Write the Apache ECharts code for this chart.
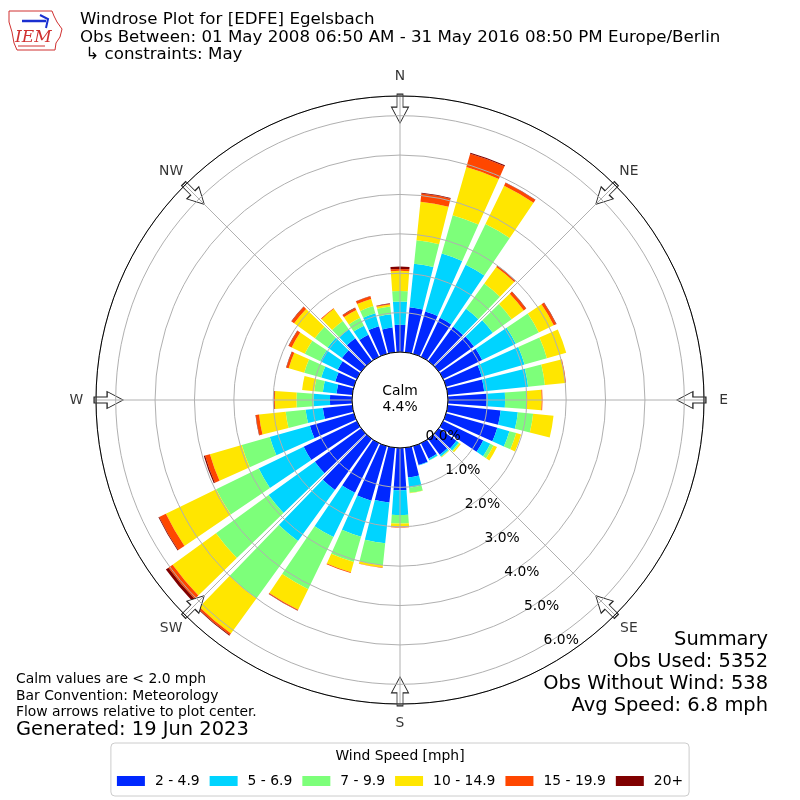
<!DOCTYPE html>
<html><head><meta charset="utf-8">
<script src="https://cdn.jsdelivr.net/npm/echarts@6/dist/echarts.min.js"></script>
<style>html,body{margin:0;padding:0;background:#fff}#c{width:800px;height:800px}</style>
</head><body><div id="c"></div>
<script>
// direction bins (degrees, meteorological, clockwise from N)
const directions = ['0','10','20','30','40','50','60','70','80','90','100','110','120','130','140','150','160','170',
  '180','190','200','210','220','230','240','250','260','270','280','290','300','310','320','330','340','350'];
// percent of observations per bin
const speed2to4 = [0.69,1.15,1.12,1.10,1.08,1.10,1.10,0.94,0.93,0.98,1.35,1.35,1.13,0.55,0.50,0.44,0.50,0.76,
  1.07,1.40,1.44,1.40,1.60,1.45,1.50,1.16,0.75,0.56,0.40,0.49,0.54,0.60,0.72,0.62,0.73,0.63];
const speed5to6 = [0.59,1.11,1.53,1.50,0.56,0.59,0.95,1.13,1.12,0.47,0.44,0.32,0.20,0.07,0.05,0.04,0.01,0.26,
  0.63,1.04,0.95,1.25,1.60,1.45,1.27,1.06,0.44,0.42,0.35,0.37,0.49,0.45,0.28,0.26,0.34,0.34];
const speed7to9 = [0.27,0.60,1.01,1.15,0.79,0.59,0.65,0.59,0.43,0.55,0.39,0.18,0.09,0.03,0.02,0.01,0,0.13,
  0.22,0.56,0.67,1.47,1.80,1.65,1.20,0.74,0.51,0.43,0.22,0.45,0.44,0.40,0.26,0.22,0.19,0.20];
const speed10to14 = [0.51,0.98,1.27,1.08,0.52,0.38,0.42,0.51,0.52,0.38,0.52,0.13,0.10,0.04,0.01,0,0,0.01,
  0.08,0.06,0.27,0.58,1.10,1.36,1.42,0.84,0.68,0.55,0.31,0.41,0.37,0.65,0.38,0.22,0.19,0.05];
const speed15to19 = [0.05,0.21,0.35,0.08,0.04,0.07,0.07,0,0.02,0.02,0,0,0,0,0,0,0,0,
  0.02,0.01,0.02,0.02,0.05,0.13,0.19,0.13,0.08,0.02,0,0.06,0.08,0.08,0.02,0.06,0.07,0.02];
const speed20plus = [0.06,0.02,0.03,0.01,0.01,0.01,0.01,0,0,0,0,0,0,0,0,0,0,0,
  0,0,0,0.01,0.02,0.08,0.02,0.03,0.01,0.01,0,0.01,0.01,0.01,0,0.01,0.01,0.01];
const seriesNames = ['2 - 4.9','5 - 6.9','7 - 9.9','10 - 14.9','15 - 19.9','20+'];
const seriesColors = ['#0028ff','#00d4ff','#7dff7a','#ffe600','#ff4700','#800000'];
const compassAngles = [0,45,90,135,180,225,270,315];
const compassLabels = ['N','NE','E','SE','S','SW','W','NW'];
const radiusTicks = [0,1,2,3,4,5,6];
const calmPct = '4.4%';

const FONT = 'DejaVu Sans';
const F10 = 13.89, F12 = 16.67, F14 = 19.44;
const chart = echarts.init(document.getElementById('c'), null, {renderer:'canvas'});
const ring = [48, 304];
const allData = [speed2to4, speed5to6, speed7to9, speed10to14, speed15to19, speed20plus];

const barSeries = allData.map((d,i)=>({
  type:'bar', name:seriesNames[i], coordinateSystem:'polar', polarIndex:0, stack:'w',
  data:d, itemStyle:{color:seriesColors[i]}, barCategoryGap:'18%', z:2, silent:true
}));

const arrowPath = 'path://M-3,0 L3,0 L3,13 L8.5,13 L0,29 L-8.5,13 L-3,13 Z';
const arrowSeries = {
  type:'scatter', coordinateSystem:'polar', polarIndex:1, silent:true, z:3, clip:false,
  symbol:arrowPath, symbolSize:[17,29],
  itemStyle:{color:'#ffffff', borderColor:'#222', borderWidth:1, opacity:1},
  data: compassAngles.map(a=>({value:[6.18, a], symbolRotate:-a}))
};
// compass direction labels, centred just outside the outer ring
const compassLabelSeries = {
  type:'scatter', coordinateSystem:'polar', polarIndex:1, silent:true, z:8, clip:false,
  symbol:'circle', symbolSize:1, itemStyle:{color:'rgba(255,255,255,0)'},
  label:{show:true, position:'inside', color:'#000', fontSize:F10, fontFamily:FONT,
    formatter:p=>compassLabels[p.dataIndex]},
  data: compassAngles.map(a=>[7.0, a])
};

function txt(x, y, text, size, opts){
  return Object.assign({type:'text', x:x, y:y, z:10,
    style:Object.assign({text:text, fontSize:size, fontFamily:FONT, fill:'#000', verticalAlign:'middle'}, (opts||{}))});
}

const option = {
  animation:false,
  backgroundColor:'#ffffff',
  polar:[
    {center:['50%','50%'], radius:ring},
    {center:['50%','50%'], radius:ring},
    {center:['50%','50%'], radius:[44, 300]}
  ],
  angleAxis:[
    {polarIndex:0, type:'category', data:directions, startAngle:95, clockwise:true, z:6,
     axisLine:{show:true, lineStyle:{color:'#000', width:1}}, axisTick:{show:false},
     axisLabel:{show:false}, splitLine:{show:false}},
    {polarIndex:1, type:'value', min:0, max:360, interval:45, startAngle:90, clockwise:true, z:5,
     axisLine:{show:false}, axisTick:{show:false}, axisLabel:{show:false},
     splitLine:{show:true, lineStyle:{color:'#b0b0b0', width:1}}},
    {polarIndex:2, type:'value', min:0, max:360, startAngle:-60, show:false}
  ],
  radiusAxis:[
    {polarIndex:0, type:'value', min:0, max:6.5, interval:1, z:5,
     axisLine:{show:false}, axisTick:{show:false}, axisLabel:{show:false},
     splitLine:{show:true, lineStyle:{color:'#b0b0b0', width:1}}},
    {polarIndex:1, type:'value', min:0, max:6.5, show:false},
    {polarIndex:2, type:'value', min:0, max:6.5, interval:1, z:7,
     axisLine:{show:false}, axisTick:{show:false}, splitLine:{show:false},
     axisLabel:{show:true, margin:4, fontSize:F10, fontFamily:FONT, color:'#000',
       formatter:v=> radiusTicks.indexOf(v)>=0 ? v.toFixed(1)+'%' : ''}}
  ],
  legend:{
    data:seriesNames, left:'center', top:743, orient:'horizontal',
    itemWidth:28, itemHeight:10, itemGap:10, icon:'rect',
    padding:[31,6,8,6], borderColor:'#cccccc', borderWidth:1, borderRadius:4,
    textStyle:{fontSize:F10, fontFamily:FONT, color:'#000', padding:[0,0,0,5]}
  },
  graphic:[
    txt(80, 20, 'Windrose Plot for [EDFE] Egelsbach', F12),
    txt(80, 37.5, 'Obs Between: 01 May 2008 06:50 AM - 31 May 2016 08:50 PM Europe/Berlin', F12),
    txt(80, 55, ' \u21b3 constraints: May', F12),
    txt(400, 391, 'Calm', F10, {align:'center'}),
    txt(400, 407, calmPct, F10, {align:'center'}),
    txt(768, 640, 'Summary', F14, {align:'right'}),
    txt(768, 662, 'Obs Used: 5352', F14, {align:'right'}),
    txt(768, 684, 'Obs Without Wind: 538', F14, {align:'right'}),
    txt(768, 705.5, 'Avg Speed: 6.8 mph', F14, {align:'right'}),
    txt(16, 679, 'Calm values are < 2.0 mph', F10),
    txt(16, 696, 'Bar Convention: Meteorology', F10),
    txt(16, 712, 'Flow arrows relative to plot center.', F10),
    txt(16, 730, 'Generated: 19 Jun 2023', F14),
    txt(400, 756, 'Wind Speed [mph]', F10, {align:'center'}),
    {type:'polyline', z:9, shape:{points:[[9,11],[52,11],[54,16],[57,22],[62,29],[60,37],[56,43],[55,50],[17,50],[14,43],[12,32],[9,22],[9,11]]},
     style:{stroke:'#d03030', lineWidth:1, fill:null}},
    {type:'polyline', z:9, shape:{points:[[22,21],[46,21]]}, style:{stroke:'#1a2fd0', lineWidth:2.5}},
    {type:'polyline', z:9, shape:{points:[[40,15],[48,19],[46,28]]}, style:{stroke:'#1a2fd0', lineWidth:2}},
    {type:'polyline', z:9, shape:{points:[[18,46],[45,46]]}, style:{stroke:'#d03030', lineWidth:1}},
    txt(15, 38, 'IEM', 17, {fontStyle:'italic', fontFamily:'DejaVu Serif', fill:'#d03030'})
  ],
  series: barSeries.concat([arrowSeries, compassLabelSeries])
};
chart.setOption(option);
</script></body></html>
